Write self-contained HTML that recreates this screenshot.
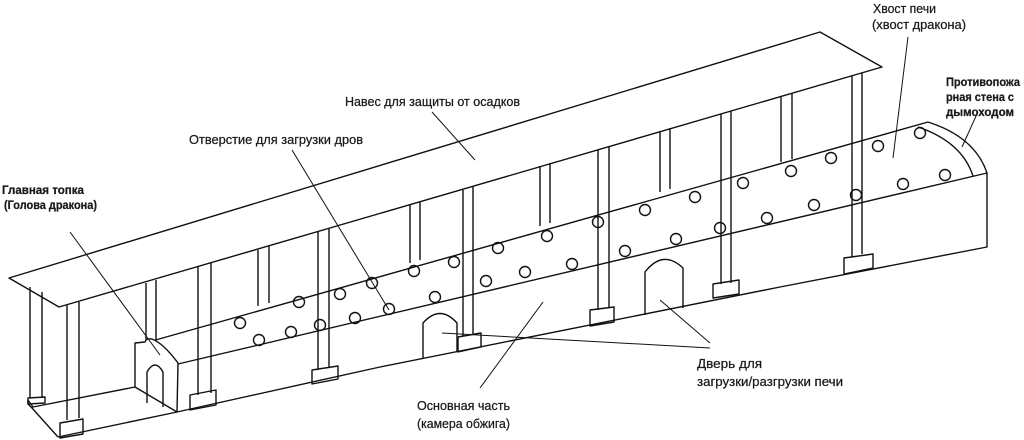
<!DOCTYPE html>
<html><head><meta charset="utf-8"><style>
html,body{margin:0;padding:0;background:#fff;}
svg{display:block;}
text{font-family:"Liberation Sans","DejaVu Sans",sans-serif;fill:#1a1a1a;stroke:#1a1a1a;stroke-width:0.25;}
</style></head><body>
<svg width="1024" height="440" viewBox="0 0 1024 440" xmlns="http://www.w3.org/2000/svg">
<g fill="none" stroke="#111" stroke-width="1.4" stroke-linejoin="round">
<polygon points="9,278 820,32 882,67 59,307" fill="#fff"/>
<line x1="30" y1="287" x2="30" y2="398"/><line x1="42" y1="292" x2="42" y2="398"/>
<polygon points="28,398 45,397 45,403 28,404"/>
<polyline points="135,387 33,407 28,400 28,404 32,408 58,437"/>
<line x1="58" y1="437" x2="177" y2="412"/>
<line x1="67" y1="305" x2="67" y2="420"/><line x1="79" y1="302" x2="79" y2="418"/>
<polygon points="60,423 83,419 83,434 60,438"/>
<line x1="146" y1="283" x2="146" y2="342"/><line x1="156" y1="280" x2="156" y2="341"/>
<polyline points="152,341 928,122"/>
<polyline points="178,364 987,173 987,247 780,287 380,367 177,412"/>
<path d="M928,122 Q975,137 987,173"/>
<path d="M918,127 Q962,142 973,176"/>
<path d="M135,343 L145,342 Q146,338 152,339 Q163,343 178,363 L177,412 L135,387 Z" fill="#fff"/>
<path d="M147,403 L147,372 Q155,358 163,372 L163,407"/>
<line x1="198" y1="266" x2="198" y2="395"/><line x1="211" y1="262" x2="211" y2="393"/>
<polygon points="190,395 216,390 216,405 190,410"/>
<line x1="258" y1="250" x2="258" y2="306"/><line x1="269" y1="246" x2="269" y2="303"/>
<line x1="410" y1="205" x2="410" y2="263"/><line x1="420" y1="202" x2="420" y2="260"/>
<line x1="540" y1="166" x2="540" y2="226"/><line x1="550" y1="163" x2="550" y2="223"/>
<line x1="660" y1="131" x2="660" y2="192"/><line x1="670" y1="128" x2="670" y2="189"/>
<line x1="781" y1="96" x2="781" y2="162"/><line x1="792" y1="93" x2="792" y2="159"/>
<line x1="318" y1="232" x2="318" y2="370"/><line x1="329" y1="229" x2="329" y2="367"/>
<polygon points="312,370 338,366 338,379 312,384"/>
<line x1="463" y1="190" x2="463" y2="336"/><line x1="473" y1="187" x2="473" y2="334"/>
<polygon points="458,337 481,333 481,347 458,352"/>
<line x1="598" y1="150" x2="598" y2="310"/><line x1="609" y1="147" x2="609" y2="308"/>
<polygon points="590,310 614,307 614,322 590,326"/>
<line x1="721" y1="114" x2="721" y2="284"/><line x1="731" y1="111" x2="731" y2="283"/>
<polygon points="713,284 739,280 739,294 713,298"/>
<line x1="852" y1="76" x2="852" y2="257"/><line x1="862" y1="73" x2="862" y2="254"/>
<polygon points="844,258 873,254 873,268 844,274"/>
<path d="M423,358 L423,323 Q440,304 457,323 L457,352"/>
<path d="M645,315 L645,272 Q663,249 683,268 L683,308"/>
<g>
<circle cx="240" cy="323" r="5.5"/><circle cx="299" cy="302" r="5.5"/><circle cx="340" cy="294" r="5.5"/>
<circle cx="372" cy="283" r="5.5"/><circle cx="414" cy="271" r="5.5"/><circle cx="454" cy="262" r="5.5"/>
<circle cx="498" cy="248" r="5.5"/><circle cx="547" cy="236" r="5.5"/><circle cx="598" cy="222" r="5.5"/>
<circle cx="645" cy="210" r="5.5"/><circle cx="695" cy="197" r="5.5"/><circle cx="743" cy="183" r="5.5"/>
<circle cx="791" cy="171" r="5.5"/><circle cx="831" cy="158" r="5.5"/><circle cx="878" cy="146" r="5.5"/>
<circle cx="920" cy="133" r="5.5"/>
<circle cx="259" cy="340" r="5.5"/><circle cx="291" cy="332" r="5.5"/><circle cx="320" cy="325" r="5.5"/>
<circle cx="355" cy="318" r="5.5"/><circle cx="389" cy="309" r="5.5"/><circle cx="435" cy="297" r="5.5"/>
<circle cx="486" cy="281" r="5.5"/><circle cx="525" cy="272" r="5.5"/><circle cx="572" cy="264" r="5.5"/>
<circle cx="625" cy="251" r="5.5"/><circle cx="676" cy="239" r="5.5"/><circle cx="720" cy="228" r="5.5"/>
<circle cx="767" cy="218" r="5.5"/><circle cx="814" cy="205" r="5.5"/><circle cx="856" cy="195" r="5.5"/>
<circle cx="903" cy="184" r="5.5"/><circle cx="945" cy="175" r="5.5"/>
</g>
</g>
<g stroke="#111" stroke-width="1" fill="none">
<line x1="432" y1="112" x2="475" y2="160"/>
<line x1="292" y1="150" x2="389" y2="310"/>
<line x1="70" y1="232" x2="160" y2="355"/>
<line x1="908" y1="37" x2="893" y2="158"/>
<line x1="977" y1="114" x2="962" y2="147"/>
<line x1="442" y1="333" x2="710" y2="348"/>
<line x1="660" y1="300" x2="710" y2="343"/>
<line x1="480" y1="388" x2="543" y2="302"/>
</g>
<g font-size="13">
<text x="345" y="106" textLength="175" lengthAdjust="spacingAndGlyphs">Навес для защиты от осадков</text>
<text x="189" y="144" textLength="174" lengthAdjust="spacingAndGlyphs">Отверстие для загрузки дров</text>
<text x="873" y="13" textLength="63" lengthAdjust="spacingAndGlyphs">Хвост печи</text>
<text x="872" y="29" textLength="94" lengthAdjust="spacingAndGlyphs">(хвост дракона)</text>
<text x="697" y="368" textLength="65" lengthAdjust="spacingAndGlyphs">Дверь для</text>
<text x="697" y="386" textLength="146" lengthAdjust="spacingAndGlyphs">загрузки/разгрузки печи</text>
<text x="417" y="410" textLength="93" lengthAdjust="spacingAndGlyphs">Основная часть</text>
<text x="417" y="428" textLength="93" lengthAdjust="spacingAndGlyphs">(камера обжига)</text>
</g>
<g font-size="11.5" font-weight="bold">
<text x="2" y="194" textLength="82" lengthAdjust="spacingAndGlyphs">Главная топка</text>
<text x="4" y="209" textLength="93" lengthAdjust="spacingAndGlyphs">(Голова дракона)</text>
<text x="946" y="86" textLength="74" lengthAdjust="spacingAndGlyphs">Противопожа</text>
<text x="946" y="101" textLength="68" lengthAdjust="spacingAndGlyphs">рная стена с</text>
<text x="946" y="116" textLength="68" lengthAdjust="spacingAndGlyphs">дымоходом</text>
</g>
</svg>
</body></html>
